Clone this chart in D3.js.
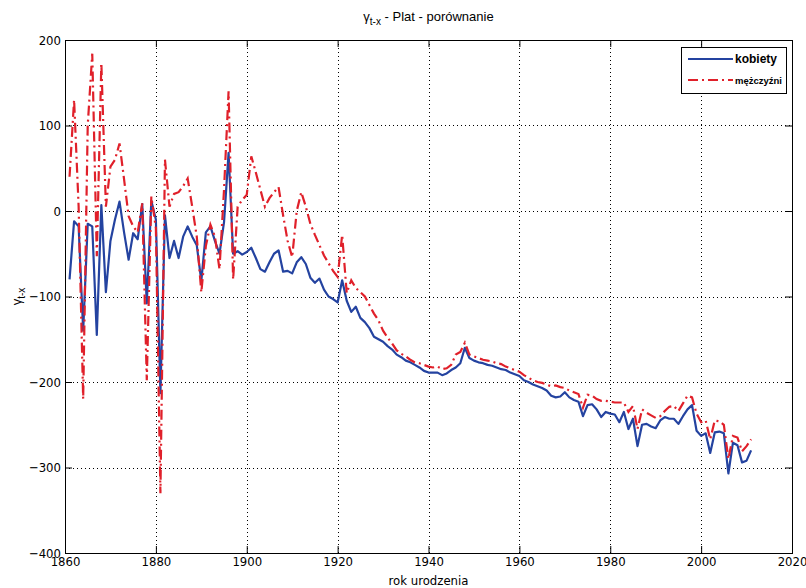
<!DOCTYPE html>
<html>
    <head>
        <meta charset="utf-8">
        <title>gamma t-x - Plat - porównanie</title>
        <script src="https://d3js.org/d3.v7.min.js"></script>
        <style>
            body { margin: 0; background: #fff; }
            .tick-label { font-family: "Liberation Sans Narrow", "DejaVu Sans Condensed", sans-serif; font-stretch: condensed; font-size: 13px; fill: #000; }
        </style>
    </head>
    <body>
        <svg width="806" height="588"></svg>
        <script>
        // rok urodzenia
        var years = d3.range(1861, 2012);

        // kobiety, 1861..2011 (one row per decade)
        var kobiety = [
            -80, -12, -18, -140, -15, -18, -145, 7, -95,              // 1861-1869
            -35, -10, 11, -25, -57, -26, -33, 8, -108, 12,            // 1870s
            -10, -213, -5, -55, -35, -55, -30, -18, -30, -40,         // 1880s
            -82, -25, -18, -35, -50, -13, 68, -50, -47, -51,          // 1890s
            -48, -43, -55, -68, -71, -60, -50, -46, -71, -70,         // 1900s
            -73, -60, -54, -62, -78, -84, -79, -92, -100, -103,       // 1910s
            -107, -81, -105, -118, -112, -125, -130, -137, -147, -150,// 1920s
            -153, -158, -162, -168, -171, -175, -177, -180, -183, -187,
            -189, -189, -189, -192, -190, -186, -183, -178, -160, -172,
            -175, -177, -178, -180, -181, -183, -185, -186, -189, -191,
            -193, -198, -200, -203, -205, -207, -210, -216, -218, -217,
            -212, -218, -221, -223, -240, -227, -226, -232, -241, -235,
            -237, -238, -247, -235, -255, -243, -275, -250, -249, -252,
            -254, -245, -241, -243, -243, -249, -240, -232, -227, -257,
            -263, -260, -283, -259, -258, -260, -307, -271, -274, -294,
            -292, -280                                                 // 2010-2011
        ];

        // mężczyźni, 1861..2011
        var mezczyzni = [
            40, 130, 5, -220, 100, 184, -53, 173, 5,
            52, 60, 79, 37, -6, -18, -25, 9, -198, 17,
            -20, -330, 60, 5, 20, 22, 29, 38, 5, -30,
            -95, -41, -16, -30, -68, 25, 140, -80, 5, 13,
            19, 64, 45, 25, 5, 15, 22, 28, -5, -35,
            -54, 0, 22, 5, -15, -28, -40, -52, -61, -70,
            -77, -28, -96, -81, -90, -95, -100, -110, -120, -128,
            -140, -148, -155, -163, -167, -170, -174, -177, -178, -180,
            -182, -183, -182, -185, -184, -180, -168, -165, -154, -168,
            -170, -172, -174, -175, -176, -178, -179, -182, -184, -186,
            -188, -192, -195, -198, -200, -201, -203, -205, -204, -206,
            -207, -210, -212, -214, -230, -215, -216, -220, -222, -222,
            -223, -224, -224, -224, -235, -228, -255, -232, -236, -239,
            -242, -240, -234, -229, -228, -234, -225, -216, -218, -237,
            -247, -245, -267, -245, -246, -250, -290, -263, -265, -281,
            -275, -267
        ];

        var xTicks = [1860, 1880, 1900, 1920, 1940, 1960, 1980, 2000, 2020];
        var yTicks = [-400, -300, -200, -100, 0, 100, 200];
        var seriesNames = ["kobiety", "mężczyźni"];

        // plot box (do not call these top/left: window.top is read-only)
        var pL = 65, pR = 792, pT = 40, pB = 553;
        var svg = d3.select("svg");

        var x = d3.scaleLinear().domain([1860, 2020]).range([pL, pR]);
        var y = d3.scaleLinear().domain([-400, 200]).range([pB, pT]);

        // dotted grid
        var grid = svg.append("g")
            .attr("stroke", "#000")
            .attr("stroke-width", 1)
            .attr("stroke-dasharray", "1,3");
        grid.selectAll(".gx")
            .data(xTicks.slice(1, -1))
            .enter().append("line")
            .attr("x1", d => Math.round(x(d)) + 0.5).attr("x2", d => Math.round(x(d)) + 0.5)
            .attr("y1", pT).attr("y2", pB);
        grid.selectAll(".gy")
            .data(yTicks.slice(1, -1))
            .enter().append("line")
            .attr("y1", d => Math.round(y(d)) + 0.5).attr("y2", d => Math.round(y(d)) + 0.5)
            .attr("x1", pL).attr("x2", pR);

        // axes, ticks pointing inward, box on all four sides
        var tl = 7;
        function styleLabels(g) {
            g.attr("font-family", null).attr("font-size", null);
            g.selectAll("text").attr("class", "tick-label");
        }
        svg.append("g")
            .attr("transform", "translate(0," + pB + ")")
            .call(d3.axisBottom(x).tickValues(xTicks).tickSizeInner(-tl).tickSizeOuter(0).tickFormat(d3.format("d")).tickPadding(4))
            .call(styleLabels);
        svg.append("g")
            .attr("transform", "translate(0," + pT + ")")
            .call(d3.axisTop(x).tickValues(xTicks).tickSizeInner(-tl).tickSizeOuter(0).tickFormat(""));
        svg.append("g")
            .attr("transform", "translate(" + pL + ",0)")
            .call(d3.axisLeft(y).tickValues(yTicks).tickSizeInner(-tl).tickSizeOuter(0).tickPadding(4))
            .call(styleLabels);
        svg.append("g")
            .attr("transform", "translate(" + pR + ",0)")
            .call(d3.axisRight(y).tickValues(yTicks).tickSizeInner(-tl).tickSizeOuter(0).tickFormat(""));
        svg.selectAll(".domain").remove();
        svg.append("rect")
            .attr("x", pL + 0.5).attr("y", pT + 0.5)
            .attr("width", pR - pL).attr("height", pB - pT)
            .attr("fill", "none").attr("stroke", "#000");

        // the two series
        var line = d3.line()
            .x((d, i) => x(years[i]))
            .y(d => y(d));

        svg.append("path")
            .datum(kobiety)
            .attr("d", line)
            .attr("fill", "none")
            .attr("stroke", "#2443a0")
            .attr("stroke-width", 2.2)
            .attr("stroke-linejoin", "round");

        svg.append("path")
            .datum(mezczyzni)
            .attr("d", line)
            .attr("fill", "none")
            .attr("stroke", "#e0202a")
            .attr("stroke-width", 2.2)
            .attr("stroke-dasharray", "10,4,2,4");

        // title
        var title = svg.append("text")
            .attr("x", (pL + pR) / 2)
            .attr("y", 21)
            .attr("text-anchor", "middle")
            .style("font-family", "'Liberation Sans', Arial, sans-serif")
            .style("font-size", "13px");
        title.append("tspan").text("γ");
        title.append("tspan").attr("dy", 4).style("font-size", "10px").text("t-x");
        title.append("tspan").attr("dy", -4).text(" - Plat - porównanie");

        // axis labels
        svg.append("text")
            .attr("class", "tick-label")
            .attr("x", (pL + pR) / 2)
            .attr("y", 585)
            .attr("text-anchor", "middle")
            .text("rok urodzenia");

        var ylab = svg.append("text")
            .attr("transform", "translate(21," + ((pT + pB) / 2) + ") rotate(-90)")
            .attr("text-anchor", "middle")
            .style("font-family", "'Liberation Sans', Arial, sans-serif")
            .style("font-size", "13px");
        ylab.append("tspan").text("γ");
        ylab.append("tspan").attr("dy", 4).style("font-size", "10px").text("t-x");

        // legend
        var lg = svg.append("g");
        lg.append("rect")
            .attr("x", 681.5).attr("y", 47.5)
            .attr("width", 105).attr("height", 46)
            .attr("fill", "#fff").attr("stroke", "#000");
        var legendRows = [
            { name: seriesNames[0], color: "#2443a0", dash: null, y: 59, size: "12px" },
            { name: seriesNames[1], color: "#e0202a", dash: "10,4,2,4", y: 80, size: "9.5px" }
        ];
        lg.selectAll(".ln")
            .data(legendRows)
            .enter().append("line")
            .attr("x1", 688).attr("x2", 733)
            .attr("y1", d => d.y).attr("y2", d => d.y)
            .attr("stroke", d => d.color)
            .attr("stroke-width", 2)
            .attr("stroke-dasharray", d => d.dash);
        lg.selectAll(".lt")
            .data(legendRows)
            .enter().append("text")
            .attr("x", 735)
            .attr("y", d => d.y + 4)
            .style("font-family", "'Liberation Sans', Arial, sans-serif")
            .style("font-weight", "bold")
            .style("font-size", d => d.size)
            .text(d => d.name);
        </script>
    </body>
</html>
